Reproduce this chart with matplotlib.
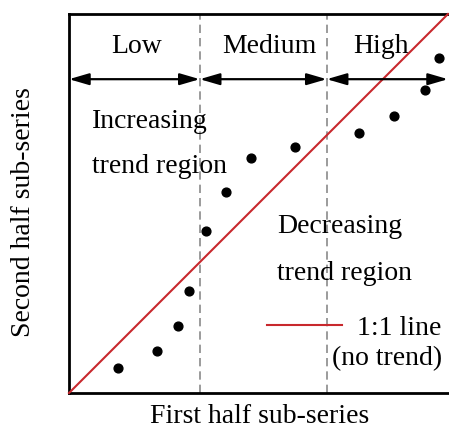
import numpy as np
import matplotlib.pyplot as plt

plt.rcParams['font.family'] = ['Liberation Serif', 'DejaVu Serif']

# first-half vs second-half sub-series values (normalised)
first_half = [0.129, 0.232, 0.288, 0.317, 0.361, 0.414, 0.480, 0.596, 0.765, 0.858, 0.939, 0.976]
second_half = [0.066, 0.111, 0.177, 0.269, 0.427, 0.530, 0.620, 0.649, 0.686, 0.731, 0.799, 0.884]

# class boundaries along the first-half axis
bounds = [0.0, 0.345, 0.68, 1.0]
class_names = ['Low', 'Medium', 'High']
class_centers = [0.179, 0.530, 0.823]

fs = 20
red = '#c8282d'

fig = plt.figure(figsize=(4.49, 4.28), dpi=100)
ax = fig.add_axes([69 / 449, 35 / 428, 379 / 449, 379 / 428])
ax.set_xlim(0, 1)
ax.set_ylim(0, 1)

ax.plot([0, 1], [0, 1], color=red, lw=1.5, zorder=3, clip_on=False)
ax.scatter(first_half, second_half, s=40, color='black', zorder=4)

for b in bounds[1:-1]:
    ax.axvline(b, color='#8a8a8a', lw=1.2, ls=(0, (5, 3)), zorder=1)

arrow_y = 0.828
for i, name in enumerate(class_names):
    x0, x1 = bounds[i], bounds[i + 1]
    ax.annotate('', xy=(x1, arrow_y), xytext=(x0, arrow_y),
                arrowprops=dict(arrowstyle='<|-|>,head_length=1.2,head_width=0.35',
                                color='black', lw=1.6, shrinkA=0, shrinkB=0),
                zorder=5, annotation_clip=False)
    ax.text(class_centers[i], 0.897, name, ha='center', va='baseline', fontsize=fs)

ax.text(0.061, 0.699, 'Increasing', ha='left', va='baseline', fontsize=fs)
ax.text(0.061, 0.580, 'trend region', ha='left', va='baseline', fontsize=fs)
ax.text(0.549, 0.422, 'Decreasing', ha='left', va='baseline', fontsize=fs)
ax.text(0.549, 0.298, 'trend region', ha='left', va='baseline', fontsize=fs)

ax.plot([0.522, 0.720], [0.179, 0.179], color=red, lw=1.5, zorder=3)
ax.text(0.760, 0.153, '1:1 line', ha='left', va='baseline', fontsize=fs)
ax.text(0.694, 0.074, '(no trend)', ha='left', va='baseline', fontsize=fs)

ax.set_xticks([])
ax.set_yticks([])
for s in ax.spines.values():
    s.set_linewidth(2)
ax.spines['right'].set_visible(False)

fig.text(260 / 449, 1 - 423 / 428, 'First half sub-series', ha='center', va='baseline', fontsize=fs)
fig.text(24 / 449, 1 - 212 / 428, 'Second half sub-series', ha='center', va='center',
         rotation=90, fontsize=fs)

fig.savefig('out.png', dpi=100)
